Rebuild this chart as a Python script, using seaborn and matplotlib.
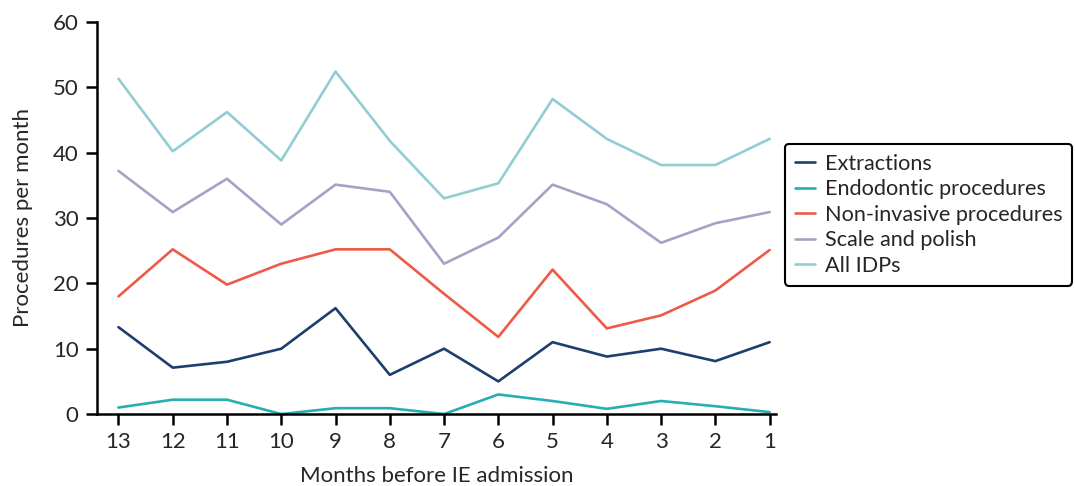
import pandas as pd
import numpy as np
import seaborn as sns
import matplotlib.pyplot as plt

# months before IE admission, in display order
months = ["13", "12", "11", "10", "9", "8", "7", "6", "5", "4", "3", "2", "1"]

extractions = [13.3, 7.1, 8.0, 10.0, 16.2, 6.0, 10.0, 5.0, 11.0, 8.8, 10.0, 8.1, 11.0]
endodontic = [1.0, 2.2, 2.2, 0.0, 0.9, 0.9, 0.0, 3.0, 2.0, 0.8, 2.0, 1.2, 0.3]
non_invasive = [18.0, 25.2, 19.8, 23.0, 25.2, 25.2, 18.4, 11.8, 22.1, 13.1, 15.1, 18.9, 25.1]
scale_polish = [37.2, 30.9, 36.0, 29.0, 35.1, 34.0, 23.0, 27.0, 35.1, 32.1, 26.2, 29.2, 30.9]
all_idps = [51.3, 40.2, 46.2, 38.8, 52.4, 41.8, 33.0, 35.3, 48.2, 42.1, 38.1, 38.1, 42.1]

series = ["Extractions", "Endodontic procedures", "Non-invasive procedures",
          "Scale and polish", "All IDPs"]
colors = ["#1d3f6e", "#27aeb3", "#ef5a48", "#a4a3c6", "#92cdd2"]

rows = []
for name, vals in zip(series, [extractions, endodontic, non_invasive, scale_polish, all_idps]):
    for i, v in enumerate(vals):
        rows.append({"pos": i, "month": months[i], "value": v, "series": name})
df = pd.DataFrame(rows)

sns.set_style("white")
plt.rcParams['font.family'] = ['Lato', 'DejaVu Sans']

fig = plt.figure(figsize=(10.75, 4.86), dpi=100)
ax = fig.add_axes([0.090, 0.148, 0.632, 0.807])

sns.lineplot(data=df, x="pos", y="value", hue="series", hue_order=series,
             palette=colors, linewidth=1.9, ax=ax)

ax.set_xticks(range(len(months)))
ax.set_xticklabels(months)
ax.set_xlim(-0.4, 12.12)
ax.set_ylim(0, 60)
ax.set_yticks(range(0, 61, 10))
ax.tick_params(axis="both", labelsize=16, length=8, width=1.8, color="black",
               direction="out", bottom=True, left=True, pad=5)
for s in ["top", "right"]:
    ax.spines[s].set_visible(False)
for s in ["left", "bottom"]:
    ax.spines[s].set_color("black")
    ax.spines[s].set_linewidth(1.8)

ax.set_xlabel("Months before IE admission", fontsize=16, labelpad=10)
ax.set_ylabel("Procedures per month", fontsize=16, labelpad=14)

handles, labels = ax.get_legend_handles_labels()
ax.legend(handles, labels, loc="center left", bbox_to_anchor=(0.730, 0.558),
          bbox_transform=fig.transFigure, fontsize=15.6, frameon=True,
          fancybox=True, edgecolor="black", handlelength=0.95, handletextpad=0.45,
          labelspacing=0.26, borderpad=0.45, borderaxespad=0)
leg = ax.get_legend()
leg.get_frame().set_linewidth(1.5)
leg.get_frame().set_alpha(1)

fig.savefig("out.png", dpi=100)
